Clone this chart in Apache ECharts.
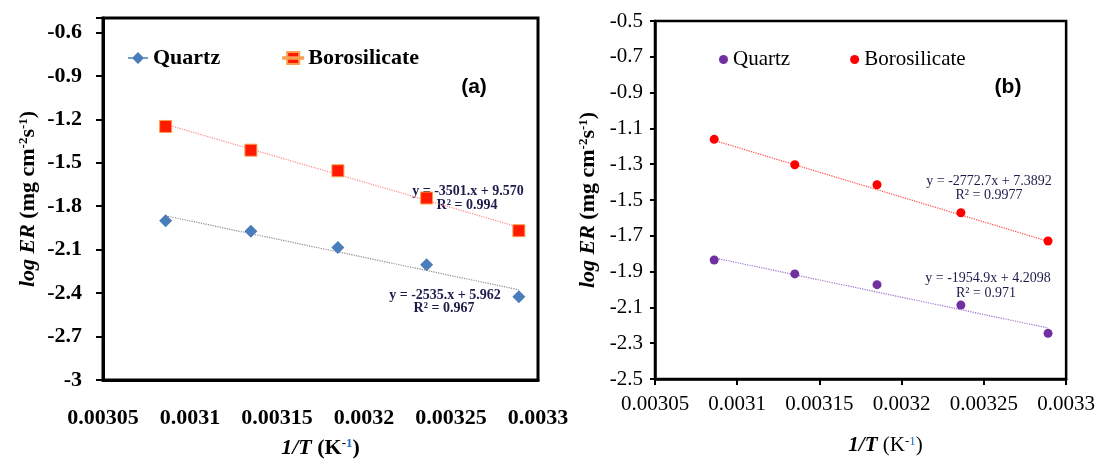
<!DOCTYPE html>
<html>
<head>
<meta charset="utf-8">
<script src="https://cdn.jsdelivr.net/npm/echarts@6/dist/echarts.min.js"></script>
<style>
  html, body { margin: 0; padding: 0; background: #fff; }
  #chart { width: 1098px; height: 464px; }
</style>
</head>
<body>
<div id="chart"></div>
<script>
// 1/T (K^-1) 的测量点
var invT = [0.003086, 0.003135, 0.003185, 0.003236, 0.003289];

// (a) 图数据
var quartzA = [-1.900, -1.972, -2.085, -2.204, -2.425];
var boroA = [-1.249, -1.413, -1.555, -1.743, -1.969];
// (b) 图数据
var quartzB = [-1.835, -1.913, -1.973, -2.087, -2.245];
var boroB = [-1.161, -1.303, -1.415, -1.571, -1.729];

// 趋势线两端（首尾 x 处）
var trendX = [0.003086, 0.003289];
var boroTrendA = [-1.234, -1.945];
var quartzTrendA = [-1.866, -2.377];
var boroTrendB = [-1.167, -1.731];
var quartzTrendB = [-1.823, -2.215];

// 标注文字
var eqBoroA = ['y = -3501.x + 9.570', 'R\u00b2 = 0.994'];
var eqQuartzA = ['y = -2535.x + 5.962', 'R\u00b2 = 0.967'];
var eqBoroB = ['y = -2772.7x + 7.3892', 'R\u00b2 = 0.9977'];
var eqQuartzB = ['y = -1954.9x + 4.2098', 'R\u00b2 = 0.971'];

var serif = '"Liberation Serif", "Times New Roman", serif';

function pairs(xs, ys) {
    var out = [];
    for (var i = 0; i < xs.length; i++) {
        out.push([xs[i], ys[i]]);
    }
    return out;
}

function xFmt(v) {
    return String(+v.toFixed(5));
}

var chart = echarts.init(document.getElementById('chart'));

var eqStyleA = { font: 'bold 14px ' + serif, fill: '#1c1c4a', align: 'center', verticalAlign: 'middle' };
var eqStyleB = { font: '14px ' + serif, fill: '#1c1c4a', align: 'center', verticalAlign: 'middle' };

function label(x, y, text, st) {
    return { type: 'text', x: x, y: y, style: Object.assign({ text: text }, st) };
}

var option = {
    animation: false,
    backgroundColor: '#fff',
    grid: [
        { left: 103, top: 18, width: 435, height: 365, show: true, borderColor: '#000', borderWidth: 3 },
        { left: 655, top: 21, width: 415, height: 358, show: true, borderColor: '#000', borderWidth: 2.5 }
    ],
    legend: [
        {
            left: 123, top: 42, itemGap: 62, itemWidth: 20, itemHeight: 12,
            textStyle: { fontFamily: serif, fontWeight: 'bold', fontSize: 22, color: '#000' },
            formatter: function (n) { return n.replace(/ \(.\)$/, ''); },
            data: [
                { name: 'Quartz (a)', icon: 'path://M0,5.2h20v1.6h-20z M10,0 L16,6 L10,12 L4,6 Z' },
                { name: 'Borosilicate (a)', icon: 'path://M0,5.2h20v1.6h-20z M4,0h12v12h-12z' }
            ]
        },
        {
            left: 714, top: 44, itemGap: 60, itemWidth: 9, itemHeight: 9,
            textStyle: { fontFamily: serif, fontSize: 21, color: '#000' },
            formatter: function (n) { return n.replace(/ \(.\)$/, ''); },
            data: [
                { name: 'Quartz (b)', icon: 'circle' },
                { name: 'Borosilicate (b)', icon: 'circle' }
            ]
        }
    ],
    xAxis: [
        {
            gridIndex: 0, type: 'value', min: 0.00305, max: 0.0033, interval: 0.00005,
            axisLine: { lineStyle: { color: '#000', width: 3 } },
            axisTick: { show: false },
            splitLine: { show: false },
            axisLabel: { formatter: xFmt, margin: 27, fontFamily: serif, fontWeight: 'bold', fontSize: 22, color: '#000' },
            name: '{t|1/T} (K{s|-}{u|1})',
            nameLocation: 'middle', nameGap: 57,
            nameTextStyle: {
                fontFamily: serif, fontWeight: 'bold', fontSize: 22, color: '#000',
                rich: {
                    t: { fontFamily: serif, fontWeight: 'bold', fontStyle: 'italic', fontSize: 22 },
                    s: { fontFamily: serif, fontWeight: 'bold', fontSize: 13, verticalAlign: 'top' },
                    u: { fontFamily: serif, fontWeight: 'bold', fontSize: 13, verticalAlign: 'top', color: '#1f6fc0' }
                }
            }
        },
        {
            gridIndex: 1, type: 'value', min: 0.00305, max: 0.0033, interval: 0.00005,
            axisLine: { lineStyle: { color: '#000', width: 2.5 } },
            axisTick: { show: true, length: 6, lineStyle: { color: '#000', width: 2 } },
            splitLine: { show: false },
            axisLabel: { formatter: xFmt, margin: 15, fontFamily: serif, fontSize: 21, color: '#000' },
            name: '{t|1/T} (K{s|-}{u|1})',
            nameLocation: 'middle', nameGap: 56,
            nameTextStyle: {
                fontFamily: serif, fontSize: 21, color: '#000', padding: [0, 0, 0, 50],
                rich: {
                    t: { fontFamily: serif, fontWeight: 'bold', fontStyle: 'italic', fontSize: 21 },
                    s: { fontFamily: serif, fontSize: 13, verticalAlign: 'top' },
                    u: { fontFamily: serif, fontSize: 13, verticalAlign: 'top', color: '#1f6fc0' }
                }
            }
        }
    ],
    yAxis: [
        {
            gridIndex: 0, type: 'value', min: -3, max: -0.5, interval: 0.3,
            axisLine: { lineStyle: { color: '#000', width: 3 } },
            axisTick: { show: true, length: 7, lineStyle: { color: '#000', width: 2 } },
            splitLine: { show: false },
            axisLabel: {
                margin: 21, fontFamily: serif, fontWeight: 'bold', fontSize: 22, color: '#000',
                formatter: function (v) { return v > -0.55 ? '' : String(Math.round(v * 10) / 10); }
            },
            name: '{i|log ER} (mg cm{s|-2}s{s|-1})',
            nameLocation: 'middle', nameGap: 64, nameRotate: 90,
            nameTextStyle: {
                fontFamily: serif, fontWeight: 'bold', fontSize: 22, color: '#000',
                rich: {
                    i: { fontFamily: serif, fontWeight: 'bold', fontStyle: 'italic', fontSize: 22 },
                    s: { fontFamily: serif, fontWeight: 'bold', fontSize: 13, verticalAlign: 'top' }
                }
            }
        },
        {
            gridIndex: 1, type: 'value', min: -2.5, max: -0.5, interval: 0.2,
            axisLine: { lineStyle: { color: '#000', width: 2.5 } },
            axisTick: { show: true, length: 5, lineStyle: { color: '#000', width: 2 } },
            splitLine: { show: false },
            axisLabel: {
                margin: 12, fontFamily: serif, fontSize: 21, color: '#000',
                formatter: function (v) { return String(Math.round(v * 10) / 10); }
            },
            name: '{i|log ER} (mg cm{s|-2}s{s|-1})',
            nameLocation: 'middle', nameGap: 56, nameRotate: 90,
            nameTextStyle: {
                fontFamily: serif, fontWeight: 'bold', fontSize: 22, color: '#000',
                rich: {
                    i: { fontFamily: serif, fontWeight: 'bold', fontStyle: 'italic', fontSize: 22 },
                    s: { fontFamily: serif, fontWeight: 'bold', fontSize: 13, verticalAlign: 'top' }
                }
            }
        }
    ],
    series: [
        {
            name: 'Quartz (a) trend', type: 'line', xAxisIndex: 0, yAxisIndex: 0, symbol: 'none',
            lineStyle: { color: '#8c8c8c', width: 1.2, type: 'dotted' }, data: pairs(trendX, quartzTrendA), z: 1
        },
        {
            name: 'Borosilicate (a) trend', type: 'line', xAxisIndex: 0, yAxisIndex: 0, symbol: 'none',
            lineStyle: { color: '#ff8a8a', width: 1.2, type: 'dotted' }, data: pairs(trendX, boroTrendA), z: 1
        },
        {
            name: 'Quartz (a)', type: 'scatter', xAxisIndex: 0, yAxisIndex: 0, symbol: 'diamond', symbolSize: [13, 13],
            itemStyle: { color: '#4a7ebb', opacity: 1 }, data: pairs(invT, quartzA), z: 3
        },
        {
            name: 'Borosilicate (a)', type: 'scatter', xAxisIndex: 0, yAxisIndex: 0, symbol: 'rect', symbolSize: 12,
            itemStyle: { color: '#ff1a00', borderColor: '#f7a050', borderWidth: 1, opacity: 1 }, data: pairs(invT, boroA), z: 3
        },
        {
            name: 'Quartz (b) trend', type: 'line', xAxisIndex: 1, yAxisIndex: 1, symbol: 'none',
            lineStyle: { color: '#9d70cc', width: 1.2, type: 'dotted' }, data: pairs(trendX, quartzTrendB), z: 1
        },
        {
            name: 'Borosilicate (b) trend', type: 'line', xAxisIndex: 1, yAxisIndex: 1, symbol: 'none',
            lineStyle: { color: '#ff4545', width: 1.2, type: 'dotted' }, data: pairs(trendX, boroTrendB), z: 1
        },
        {
            name: 'Quartz (b)', type: 'scatter', xAxisIndex: 1, yAxisIndex: 1, symbol: 'circle', symbolSize: 9,
            itemStyle: { color: '#7030a0', opacity: 1 }, data: pairs(invT, quartzB), z: 3
        },
        {
            name: 'Borosilicate (b)', type: 'scatter', xAxisIndex: 1, yAxisIndex: 1, symbol: 'circle', symbolSize: 9,
            itemStyle: { color: '#ff0000', opacity: 1 }, data: pairs(invT, boroB), z: 3
        }
    ],
    graphic: [
        { type: 'text', x: 474, y: 87, style: { text: '(a)', font: 'bold 21px "Liberation Sans", Arial, sans-serif', fill: '#000', align: 'center', verticalAlign: 'middle' } },
        { type: 'text', x: 1008, y: 87, style: { text: '(b)', font: 'bold 21px "Liberation Sans", Arial, sans-serif', fill: '#000', align: 'center', verticalAlign: 'middle' } },
        label(468, 191, eqBoroA[0], eqStyleA),
        label(467, 205, eqBoroA[1], eqStyleA),
        label(445, 295, eqQuartzA[0], eqStyleA),
        label(444, 308, eqQuartzA[1], eqStyleA),
        label(989, 181, eqBoroB[0], eqStyleB),
        label(989, 195, eqBoroB[1], eqStyleB),
        label(988, 278, eqQuartzB[0], eqStyleB),
        label(986, 293, eqQuartzB[1], eqStyleB)
    ]
};

chart.setOption(option);
</script>
</body>
</html>
